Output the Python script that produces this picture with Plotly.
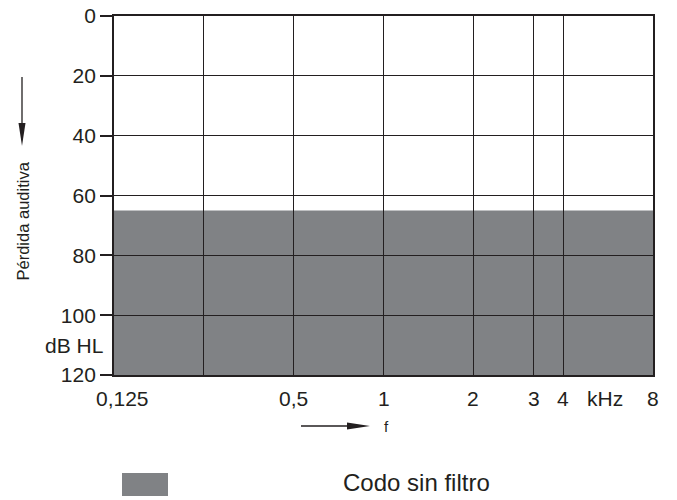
import plotly.graph_objects as go

# ---- data ----
freq_labels = ["0,125", "", "0,5", "1", "2", "3", "4", "8"]
freq_pos = [0, 1, 2, 3, 4, 4.67, 5, 6]          # axis positions of the frequency grid
unit_label = "kHz"
unit_pos = 5.47
level_ticks = [0, 20, 40, 60, 80, 100, 120]
level_unit = "dB HL"
level_unit_pos = 110
codo_name = "Codo sin filtro"
codo_x = [0, 6]
codo_level = [65, 120]        # shaded from 65 dB HL down to 120 dB HL

W, H = 677, 500
L, R, T, B = 114, 24, 16, 125
PW, PH = W - L - R, H - T - B
INK = "#231f20"
GRAY = "#808285"
FONT = "Liberation Sans, Arial, Helvetica, sans-serif"


def px(X):
    return (X - L) / PW


def py(Y):
    return (H - B - Y) / PH


fig = go.Figure()
# invisible trace to establish axes
fig.add_trace(go.Scatter(x=codo_x, y=[codo_level[0], codo_level[0]], mode="lines",
                         line=dict(width=0), hoverinfo="skip", showlegend=False))

shapes = [
    dict(type="rect", xref="x", yref="y", x0=codo_x[0], x1=codo_x[1],
         y0=codo_level[0], y1=codo_level[1], fillcolor=GRAY, line=dict(width=0),
         layer="below"),
    # legend swatch
    dict(type="rect", xref="paper", yref="paper", x0=px(122), x1=px(168),
         y0=py(473), y1=py(496), fillcolor=GRAY, line=dict(width=0)),
    # vertical arrow (Pérdida auditiva)
    dict(type="line", xref="paper", yref="paper", x0=px(22), x1=px(22),
         y0=py(77), y1=py(126), line=dict(color=INK, width=1.3)),
    dict(type="path", xref="paper", yref="paper",
         path=f"M {px(18.5)},{py(123)} L {px(25.5)},{py(123)} L {px(22)},{py(146)} Z",
         fillcolor=INK, line=dict(width=0)),
    # horizontal arrow (f)
    dict(type="line", xref="paper", yref="paper", x0=px(301), x1=px(350),
         y0=py(426), y1=py(426), line=dict(color=INK, width=1.3)),
    dict(type="path", xref="paper", yref="paper",
         path=f"M {px(347)},{py(422.5)} L {px(347)},{py(429.5)} L {px(370)},{py(426)} Z",
         fillcolor=INK, line=dict(width=0)),
]

annotations = []
for lab, pos in zip(freq_labels, freq_pos):
    if not lab:
        continue
    annotations.append(dict(x=pos, y=0, xref="x", yref="paper", text=lab,
                            showarrow=False, xanchor="center", yanchor="middle",
                            yshift=-23.5, xshift=8.5 if pos == 0 else 0,
                            font=dict(size=21, color=INK, family=FONT)))
annotations.append(dict(x=unit_pos, y=0, xref="x", yref="paper", text=unit_label,
                        showarrow=False, xanchor="center", yanchor="middle", yshift=-23.5,
                        font=dict(size=21, color=INK, family=FONT)))
annotations.append(dict(x=0, y=level_unit_pos, xref="paper", yref="y", text=level_unit,
                        showarrow=False, xanchor="right", yanchor="middle", xshift=-9,
                        font=dict(size=21, color=INK, family=FONT)))
annotations.append(dict(x=px(22), y=py(221.5), xref="paper", yref="paper",
                        text="Pérdida auditiva", textangle=-90, showarrow=False,
                        xanchor="center", yanchor="middle",
                        font=dict(size=16.5, color=INK, family=FONT)))
annotations.append(dict(x=px(387), y=py(426), xref="paper", yref="paper", text="f",
                        showarrow=False, xanchor="center", yanchor="middle",
                        font=dict(size=15, color=INK, family=FONT)))
annotations.append(dict(x=px(341), y=py(483), xref="paper", yref="paper", text=codo_name,
                        showarrow=False, xanchor="left", yanchor="middle",
                        font=dict(size=24, color=INK, family=FONT)))

fig.update_layout(
    width=W, height=H,
    margin=dict(l=L, r=R, t=T, b=B, pad=0, autoexpand=False),
    paper_bgcolor="white", plot_bgcolor="white",
    showlegend=False,
    shapes=shapes, annotations=annotations,
    font=dict(family=FONT, color=INK),
    xaxis=dict(range=[0, 6], tickvals=freq_pos, showticklabels=False, ticks="",
               showgrid=True, gridcolor=INK, gridwidth=1, zeroline=False, automargin=False,
               showline=True, mirror=True, linecolor=INK, linewidth=1.8, fixedrange=True),
    yaxis=dict(range=[120, 0], tickvals=level_ticks, ticks="outside", ticklen=12,
               tickwidth=1.5, tickcolor=INK, tickfont=dict(size=21, color=INK, family=FONT),
               showgrid=True, gridcolor=INK, gridwidth=1, zeroline=False, automargin=False,
               showline=True, mirror=True, linecolor=INK, linewidth=1.8, fixedrange=True),
)

fig.write_html("out.html", config=dict(displayModeBar=False),
               post_script="document.body.style.margin='0';document.body.style.overflow='hidden';")
